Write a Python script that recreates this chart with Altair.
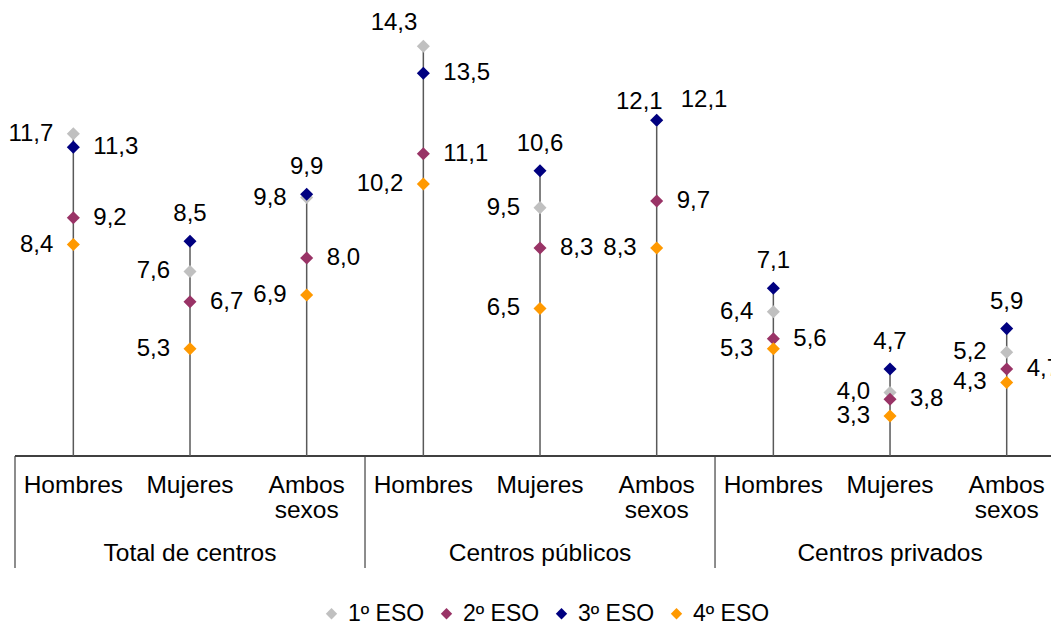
import altair as alt
import pandas as pd

# ---------------- data ----------------
groups = ["Total de centros", "Centros públicos", "Centros privados"]
sexes = ["Hombres", "Mujeres", "Ambos\nsexos"]
series = ["1º ESO", "2º ESO", "3º ESO", "4º ESO"]
eso1 = [11.7, 7.6, 9.8, 14.3, 9.5, 12.1, 6.4, 4.0, 5.2]
eso2 = [9.2, 6.7, 8.0, 11.1, 8.3, 9.7, 5.6, 3.8, 4.7]
eso3 = [11.3, 8.5, 9.9, 13.5, 10.6, 12.1, 7.1, 4.7, 5.9]
eso4 = [8.4, 5.3, 6.9, 10.2, 6.5, 8.3, 5.3, 3.3, 4.3]
colors = ["#C0C0C0", "#993366", "#000080", "#FF9900"]

# label placement (style): default per series, plus a few overrides
default_place = {"1º ESO": "L", "2º ESO": "R", "3º ESO": "A", "4º ESO": "L"}
override_place = {(0, "3º ESO"): "R", (3, "1º ESO"): "AL", (3, "3º ESO"): "R",
                  (5, "1º ESO"): "TR", (5, "3º ESO"): "TL"}
place_style = {
    "L": dict(align="right", dx=-20, dy=0),
    "R": dict(align="left", dx=20, dy=0),
    "A": dict(align="center", dx=0, dy=-27),
    "AL": dict(align="right", dx=-6, dy=-23),
    "TL": dict(align="right", dx=6, dy=-18),
    "TR": dict(align="left", dx=24, dy=-20),
}

FONT = "Liberation Sans"
W, H = 1036, 447
TOP = 1

rows = []
all_vals = [eso1, eso2, eso3, eso4]
for i in range(9):
    for s, vals in zip(series, all_vals):
        v = vals[i]
        rows.append(dict(idx=i, serie=s, value=v,
                         label=f"{v:.1f}".replace(".", ","),
                         place=override_place.get((i, s), default_place[s])))
df = pd.DataFrame(rows)

stems = pd.DataFrame({"idx": list(range(9)),
                      "top": [max(a, b, c, d) for a, b, c, d in zip(eso1, eso2, eso3, eso4)]})
cats = pd.DataFrame({"idx": list(range(9)), "cat": sexes * 3})
grp = pd.DataFrame({"idx": [1, 4, 7], "grp": groups})
seps = pd.DataFrame({"idx": [-0.5, 2.5, 5.5, 8.5]})

xs = alt.Scale(domain=[-0.5, -0.5 + W / 116.67], nice=False, zero=False)
ys = alt.Scale(domain=[2.11, 15.41], nice=False, zero=False)
X = alt.X("idx:Q", scale=xs, axis=None)

stem_layer = alt.Chart(stems).mark_rule(color="#595959", strokeWidth=1.5).encode(
    x=X, y=alt.Y("top:Q", scale=ys, axis=None), y2=alt.value(H))

axis_line = alt.Chart(stems).mark_rule(color="#404040", strokeWidth=1.2).encode(
    x=alt.value(0), x2=alt.value(W), y=alt.value(H))

sep_layer = alt.Chart(seps).mark_rule(color="#404040", strokeWidth=1.2).encode(
    x=X, y=alt.value(H), y2=alt.value(H + 112))

points = alt.Chart(df).mark_point(shape="diamond", filled=True, size=170, opacity=1).encode(
    x=X,
    y=alt.Y("value:Q", scale=ys, axis=None),
    color=alt.Color("serie:N",
                    scale=alt.Scale(domain=series, range=colors),
                    legend=alt.Legend(title=None, orient="none", direction="horizontal",
                                      legendX=305, legendY=593, padding=0,
                                      symbolType="diamond", symbolSize=130,
                                      symbolStrokeWidth=0,
                                      labelFont=FONT, labelFontSize=23, labelColor="#000000",
                                      labelOffset=5, columnPadding=10)),
)

label_layers = []
for p, st in place_style.items():
    label_layers.append(
        alt.Chart(df).transform_filter(alt.datum.place == p).mark_text(
            font=FONT, fontSize=24, color="#000000", baseline="middle", **st
        ).encode(x=X, y=alt.Y("value:Q", scale=ys, axis=None), text="label:N")
    )

cat_layer = alt.Chart(cats).mark_text(
    font=FONT, fontSize=24.5, color="#000000", baseline="alphabetic", align="center",
    lineBreak="\n", lineHeight=25
).encode(x=X, y=alt.value(H + 37), text="cat:N")

grp_layer = alt.Chart(grp).mark_text(
    font=FONT, fontSize=24.5, color="#000000", baseline="alphabetic", align="center"
).encode(x=X, y=alt.value(H + 105), text="grp:N")

chart = alt.layer(
    axis_line, sep_layer, stem_layer, points, *label_layers, cat_layer, grp_layer
).properties(
    width=W, height=H,
    autosize=alt.AutoSizeParams(type="none"),
    padding={"left": 7, "top": TOP, "right": 0, "bottom": 171 - TOP},
).configure(background="white").configure_view(stroke=None)

chart.save("out.html", embed_options={"renderer": "svg", "actions": False})
